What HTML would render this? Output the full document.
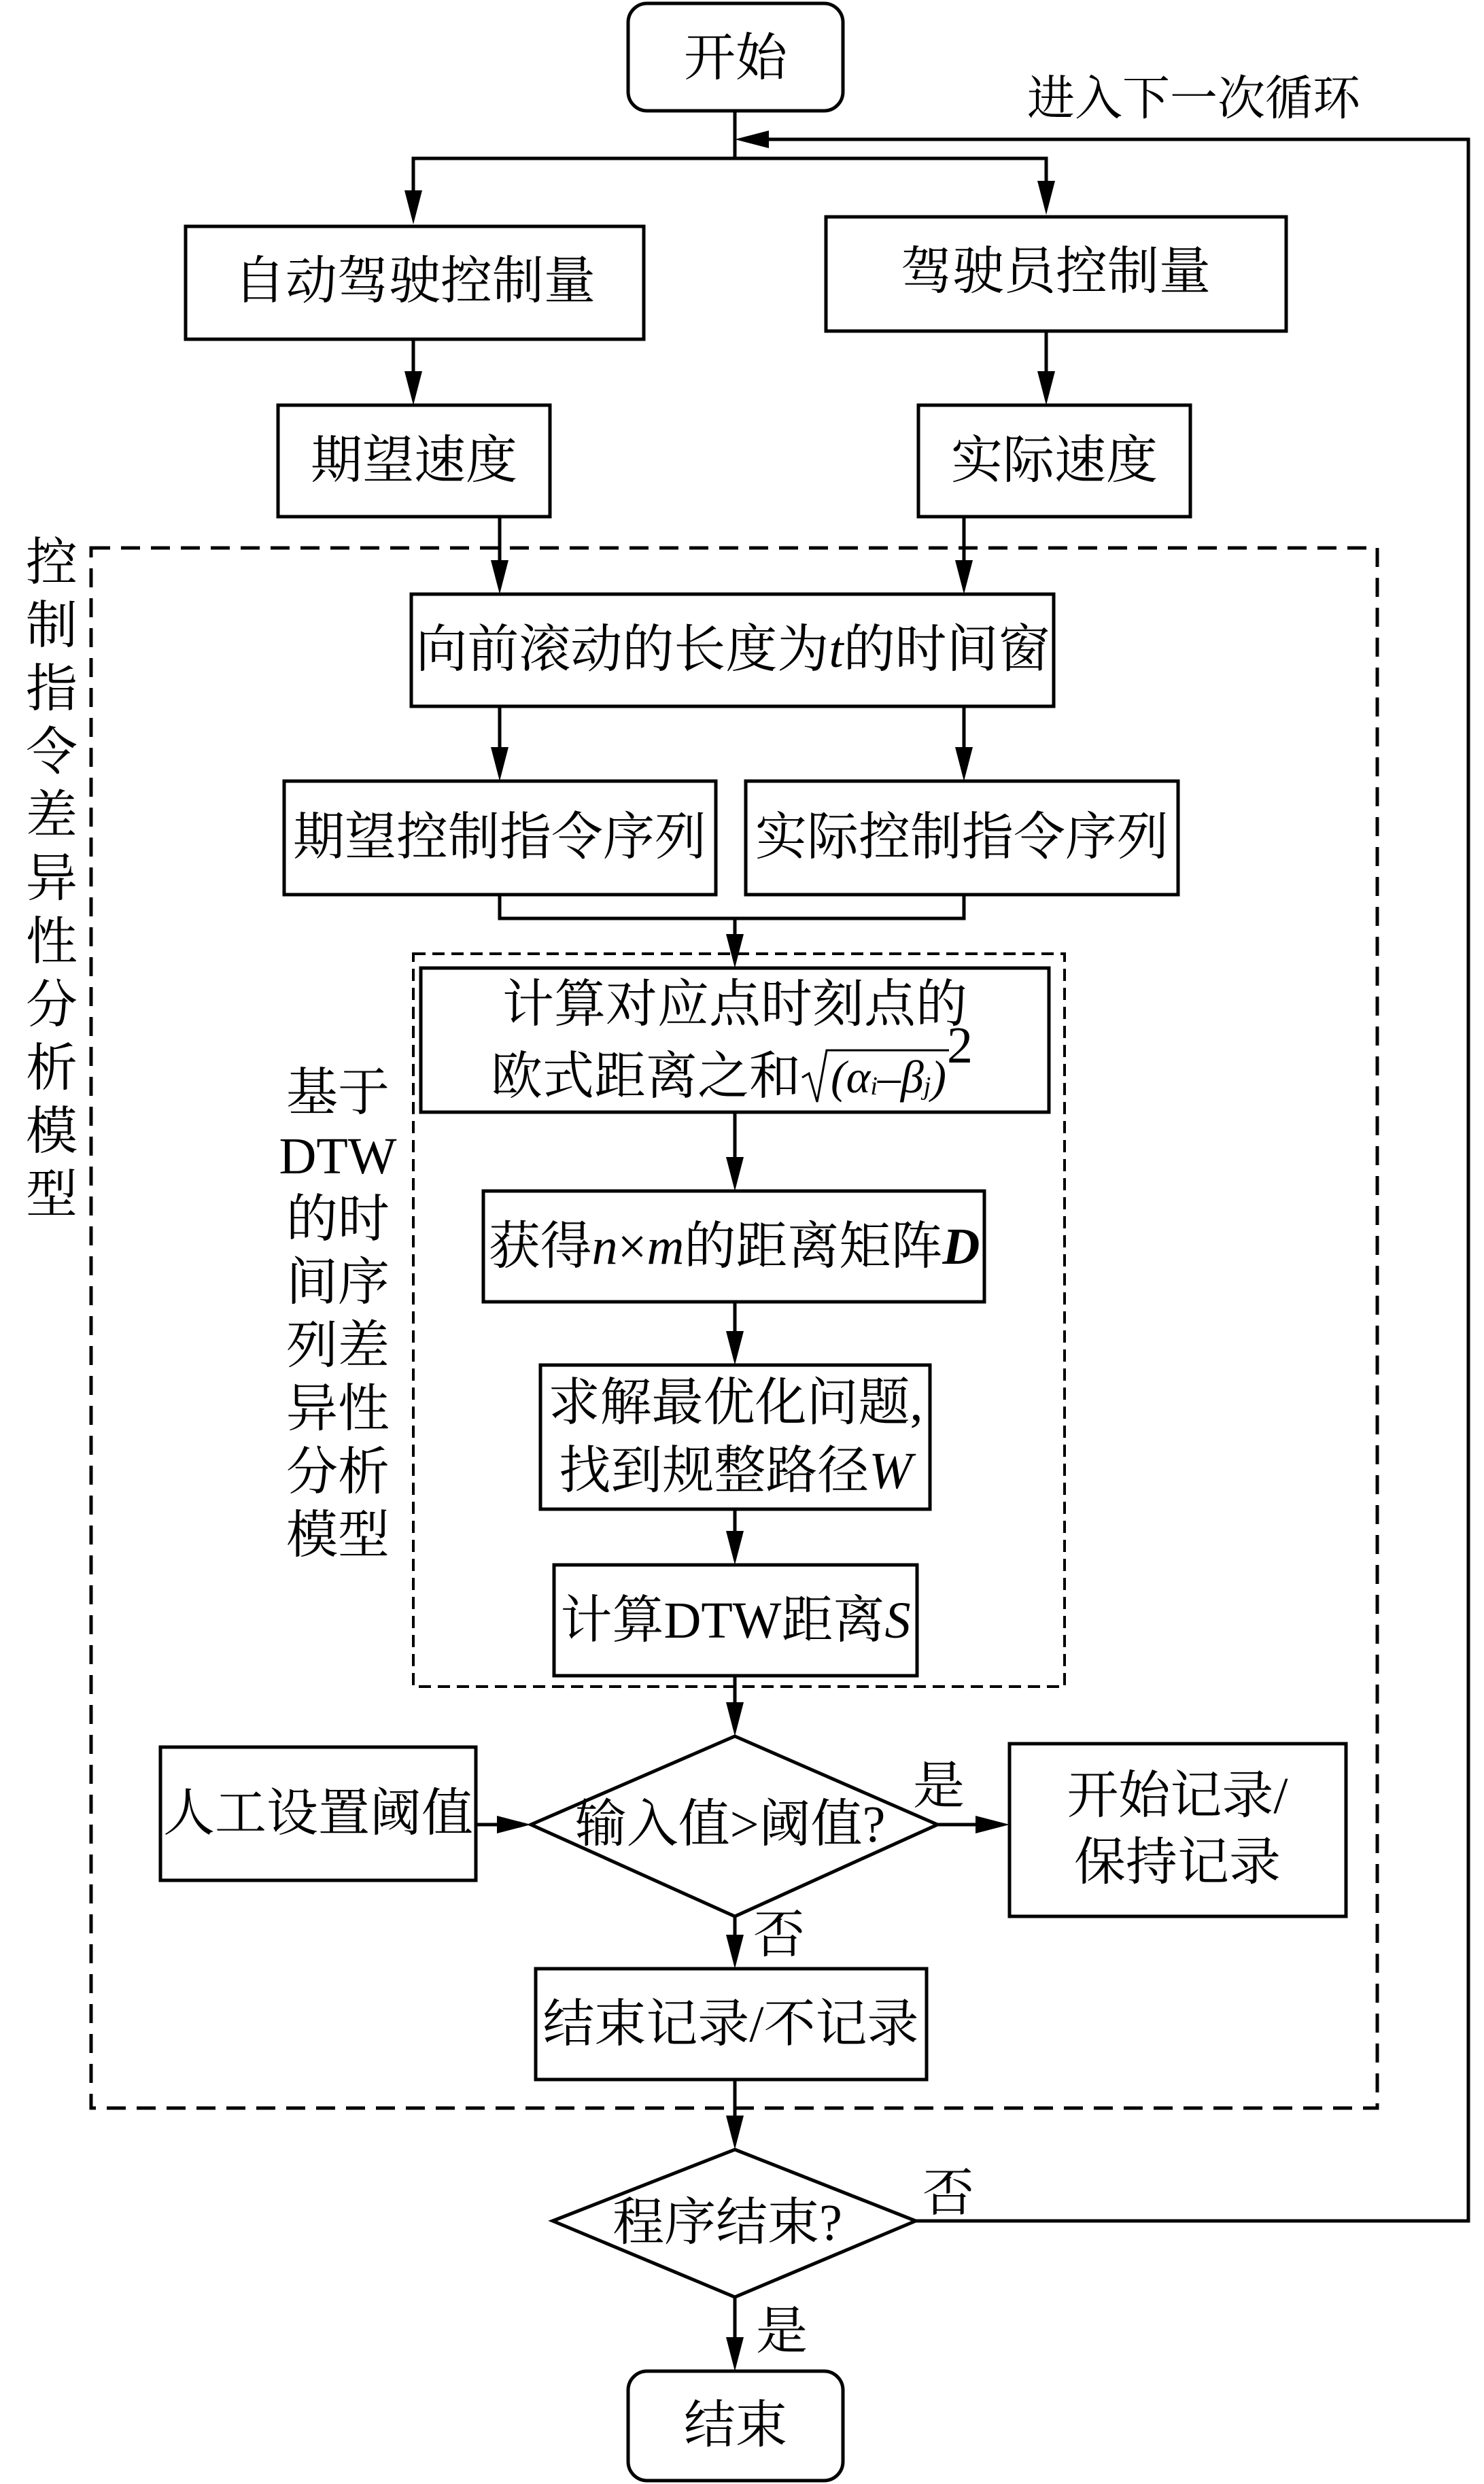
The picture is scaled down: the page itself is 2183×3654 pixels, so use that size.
<!DOCTYPE html>
<html><head><meta charset="utf-8"><style>
html,body{margin:0;padding:0;background:#fff;}
svg{display:block;}
text{font-family:"Liberation Serif","Noto Serif CJK SC",serif;font-size:76px;fill:#000;text-anchor:middle;dominant-baseline:central;}
</style></head><body>
<svg width="2183" height="3654" viewBox="0 0 2183 3654" xmlns="http://www.w3.org/2000/svg">
<g fill="none" stroke="#000" stroke-width="5">
<rect x="924" y="5" width="316" height="158" rx="28"/>
<rect x="273" y="333" width="674" height="166"/>
<rect x="1215" y="319" width="677" height="168"/>
<rect x="409" y="596" width="400" height="164"/>
<rect x="1351" y="596" width="400" height="164"/>
<rect x="134" y="806" width="1892" height="2295" stroke-dasharray="28,16"/>
<rect x="605" y="874" width="945" height="165"/>
<rect x="418" y="1149" width="635" height="167"/>
<rect x="1097" y="1149" width="636" height="167"/>
<rect x="608" y="1403" width="958" height="1078" stroke-dasharray="18,10" stroke-width="4"/>
<rect x="619" y="1424" width="924" height="212"/>
<rect x="711" y="1752" width="737" height="163"/>
<rect x="795" y="2008" width="573" height="212"/>
<rect x="815" y="2302" width="534" height="163"/>
<polygon points="1081,2554 1379,2684 1081,2819 781,2684"/>
<rect x="236" y="2570" width="464" height="196"/>
<rect x="1485" y="2565" width="495" height="254"/>
<rect x="788" y="2896" width="575" height="163"/>
<polygon points="1081,3162 1347,3267 1081,3379 813,3267"/>
<rect x="924" y="3488" width="316" height="161" rx="28"/>
<polyline points="1081,163 1081,233"/>
<polyline points="608,290 608,233 1539,233 1539,280"/>
<line x1="608" y1="499" x2="608" y2="560"/>
<line x1="1539" y1="487" x2="1539" y2="560"/>
<line x1="735" y1="760" x2="735" y2="840"/>
<line x1="1418" y1="760" x2="1418" y2="840"/>
<line x1="735" y1="1039" x2="735" y2="1110"/>
<line x1="1418" y1="1039" x2="1418" y2="1110"/>
<polyline points="735,1316 735,1351 1418,1351 1418,1316"/>
<line x1="1081" y1="1351" x2="1081" y2="1390"/>
<line x1="1081" y1="1636" x2="1081" y2="1715"/>
<line x1="1081" y1="1915" x2="1081" y2="1970"/>
<line x1="1081" y1="2220" x2="1081" y2="2265"/>
<line x1="1081" y1="2465" x2="1081" y2="2515"/>
<line x1="700" y1="2684" x2="740" y2="2684"/>
<line x1="1379" y1="2684" x2="1445" y2="2684"/>
<line x1="1081" y1="2819" x2="1081" y2="2860"/>
<line x1="1081" y1="3059" x2="1081" y2="3125"/>
<line x1="1081" y1="3379" x2="1081" y2="3450"/>
<polyline points="1347,3267 2160,3267 2160,205 1120,205"/>
</g>
<g fill="#000">
<polygon points="595,280 621,280 608,330"/>
<polygon points="1526,266 1552,266 1539,316"/>
<polygon points="595,546 621,546 608,596"/>
<polygon points="1526,546 1552,546 1539,596"/>
<polygon points="722,824 748,824 735,874"/>
<polygon points="1405,824 1431,824 1418,874"/>
<polygon points="722,1099 748,1099 735,1149"/>
<polygon points="1405,1099 1431,1099 1418,1149"/>
<polygon points="1068,1374 1094,1374 1081,1424"/>
<polygon points="1068,1702 1094,1702 1081,1752"/>
<polygon points="1068,1958 1094,1958 1081,2008"/>
<polygon points="1068,2252 1094,2252 1081,2302"/>
<polygon points="1068,2504 1094,2504 1081,2554"/>
<polygon points="731,2671 731,2697 781,2684"/>
<polygon points="1435,2671 1435,2697 1485,2684"/>
<polygon points="1068,2846 1094,2846 1081,2896"/>
<polygon points="1068,3112 1094,3112 1081,3162"/>
<polygon points="1068,3438 1094,3438 1081,3488"/>
<polygon points="1131,192 1131,218 1081,205"/>
</g>
<text x="1082" y="86">开始</text>
<text x="1756" y="146" style="font-size:70px">进入下一次循环</text>
<text x="610" y="414">自动驾驶控制量</text>
<text x="1553" y="400">驾驶员控制量</text>
<text x="609" y="678">期望速度</text>
<text x="1551" y="678">实际速度</text>
<text x="1078" y="956">向前滚动的长度为<tspan font-style="italic">t</tspan>的时间窗</text>
<text x="735" y="1232">期望控制指令序列</text>
<text x="1415" y="1232">实际控制指令序列</text>
<text x="1081" y="1478">计算对应点时刻点的</text>
<text x="950" y="1584">欧式距离之和</text>
<path d="M1180,1585 l10,-6 l12,42 l14,-76 h180" fill="none" stroke="#000" stroke-width="3"/>
<text x="1222" y="1584" font-style="italic" style="text-anchor:start;font-size:68px">(α<tspan font-size="38" dy="14">i</tspan><tspan dy="-14">–β</tspan><tspan font-size="38" dy="14">j</tspan><tspan dy="-14">)</tspan></text>
<text x="1412" y="1538" font-size="40">2</text>
<text x="1080" y="1834">获得<tspan font-style="italic">n</tspan>×<tspan font-style="italic">m</tspan>的距离矩阵<tspan font-style="italic" font-weight="bold">D</tspan></text>
<text x="1082" y="2064">求解最优化问题,</text>
<text x="1082" y="2164">找到规整路径<tspan font-style="italic">W</tspan></text>
<text x="1082" y="2384">计算DTW距离<tspan font-style="italic">S</tspan></text>
<text x="1074" y="2684">输入值&gt;阈值?</text>
<text x="468" y="2668">人工设置阈值</text>
<text x="1732" y="2642">开始记录/</text>
<text x="1732" y="2740">保持记录</text>
<text x="1381" y="2628">是</text>
<text x="1146" y="2847">否</text>
<text x="1075" y="2978">结束记录/不记录</text>
<text x="1070" y="3270">程序结束?</text>
<text x="1395" y="3227">否</text>
<text x="1150" y="3430">是</text>
<text x="1082" y="3568">结束</text>
<g style="font-size:70px">
<text x="76" y="828">控</text><text x="76" y="921">制</text><text x="76" y="1014">指</text><text x="76" y="1107">令</text><text x="76" y="1200">差</text><text x="76" y="1293">异</text><text x="76" y="1386">性</text><text x="76" y="1479">分</text><text x="76" y="1572">析</text><text x="76" y="1665">模</text><text x="76" y="1758">型</text>
<text x="497" y="1608">基于</text><text x="497" y="1701">DTW</text><text x="497" y="1794">的时</text><text x="497" y="1887">间序</text><text x="497" y="1980">列差</text><text x="497" y="2073">异性</text><text x="497" y="2166">分析</text><text x="497" y="2259">模型</text>
</g>
</svg>
</body></html>
